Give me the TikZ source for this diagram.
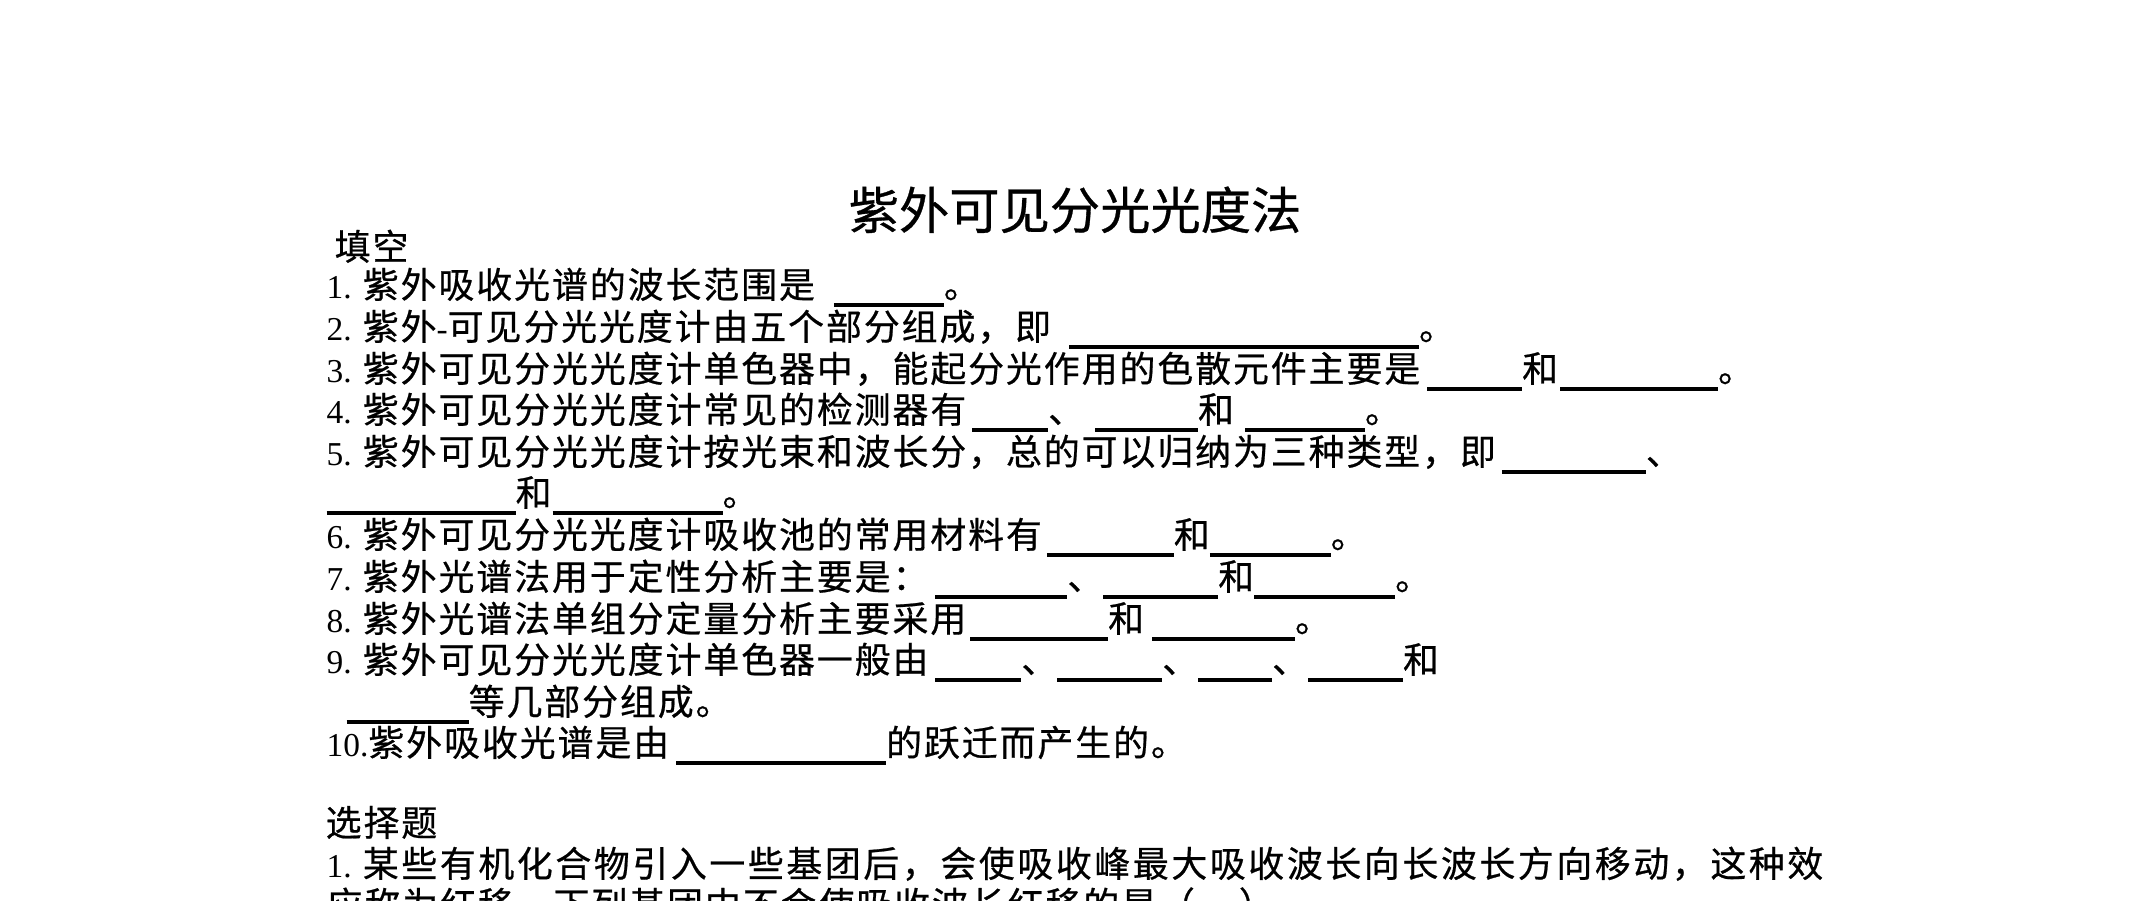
\documentclass[tikz,border=0pt]{standalone}
\usepackage{fontspec}
\setmainfont{Liberation Serif}
\newfontfamily\cjk[Scale=1.074, LetterSpace=5.44, FakeBold=0.6]{Noto Sans CJK SC}
\newfontfamily\cjkw[Scale=1.074, LetterSpace=7.3, FakeBold=0.6]{Noto Sans CJK SC}
\newfontfamily\cjkt[FakeBold=0.6]{Noto Sans CJK SC}
\newdimen\pxu \pxu=0.01cm
% blank to fill in: gap, then underline (both in pixels)
\newcommand\bl[2]{\hspace*{#1\pxu}\rule[-0.26em]{#2\pxu}{1.2pt}}

\begin{document}
\begin{tikzpicture}[x=0.01cm, y=-0.01cm,
	qline/.style={anchor=base west, inner sep=0pt, font=\fontsize{9.5pt}{11pt}\selectfont},
	titletext/.style={anchor=base, inner sep=0pt, font=\fontsize{14.3pt}{16pt}\selectfont\cjkt}]
		\path [use as bounding box, fill=white] (0,0) rectangle (2149,900);
		% Title
		\node [titletext] (title) at (1075,229) {紫外可见分光光度法};
		% Fill-in questions
		\node [qline] (fill) at (334,260) {\cjk 填空};
		\node [qline] (q1) at (326,298) {1. {\cjk 紫外吸收光谱的波长范围是\bl{19}{110}。}};
		\node [qline] (q2) at (326,340) {2. {\cjk 紫外}-{\cjk 可见分光光度计由五个部分组成，即\bl{18}{350}。}};
		\node [qline] (q3) at (326,382) {3. {\cjk 紫外可见分光光度计单色器中，能起分光作用的色散元件主要是\bl{7}{95}和\bl{2}{158}。}};
		\node [qline] (q4) at (326,423) {4. {\cjk 紫外可见分光光度计常见的检测器有\bl{6}{76}、\bl{11}{103}和\bl{11}{120}。}};
		\node [qline] (q5) at (326,465) {5. {\cjk 紫外可见分光光度计按光束和波长分，总的可以归纳为三种类型，即\bl{6}{144}、}};
		\node [qline] (q5b) at (326,506) {{\cjk \bl{0}{189}和\bl{1}{170}。}};
		\node [qline] (q6) at (326,548) {6. {\cjk 紫外可见分光光度计吸收池的常用材料有\bl{5}{127}和\bl{0}{121}。}};
		\node [qline] (q7) at (326,590) {7. {\cjk 紫外光谱法用于定性分析主要是：\bl{7}{132}、\bl{0}{115}和\bl{0}{141}。}};
		\node [qline] (q8) at (326,632) {8. {\cjk 紫外光谱法单组分定量分析主要采用\bl{4}{138}和\bl{8}{143}。}};
		\node [qline] (q9) at (326,673) {9. {\cjk 紫外可见分光光度计单色器一般由\bl{7}{86}、\bl{0}{105}、\bl{0}{74}、\bl{0}{95}和}};
		\node [qline] (q9b) at (326,715) {{\cjk \bl{20}{122}等几部分组成。}};
		\node [qline] (q10) at (326,756) {10.{\cjk 紫外吸收光谱是由\bl{7}{210}的跃迁而产生的。}};
		% Multiple choice
		\node [qline] (choice) at (325,836) {\cjk 选择题};
		\node [qline] (c1) at (326,877) {1. {\cjkw 某些有机化合物引入一些基团后，会使吸收峰最大吸收波长向长波长方向移动，这种效}};
		\node [qline] (c1b) at (326,918) {{\cjk 应称为红移，下列基团中不会使吸收波长红移的是（\hspace*{44\pxu}）}};
	\end{tikzpicture}
\end{document}
